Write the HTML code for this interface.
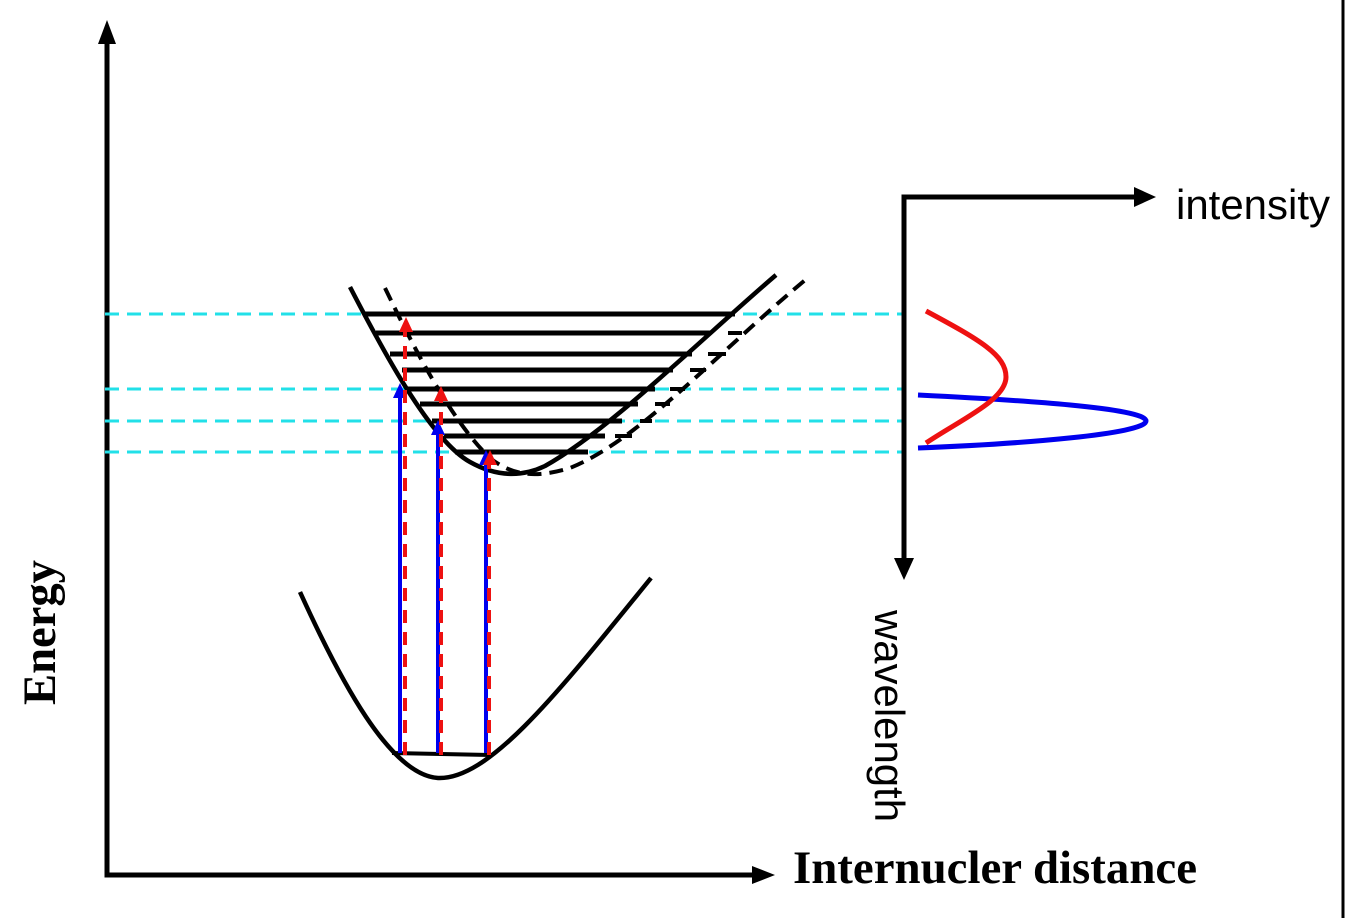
<!DOCTYPE html>
<html><head><style>
html,body{margin:0;padding:0;background:#fff;width:1346px;height:918px;overflow:hidden}
svg{display:block}
</style></head><body>
<svg width="1346" height="918" viewBox="0 0 1346 918" xmlns="http://www.w3.org/2000/svg">
<line x1="1343" y1="0" x2="1343" y2="918" stroke="#000" stroke-width="3"/>
<polyline points="107,40 107,875 760,875" fill="none" stroke="#000" stroke-width="5"/>
<polygon points="107,20 98,44 116,44" fill="#000"/>
<polygon points="775,875 752,866 752,884" fill="#000"/>
<g stroke="#22e0e8" stroke-width="3" stroke-dasharray="14,8">
<line x1="105" y1="314" x2="905" y2="314"/>
<line x1="105" y1="389" x2="905" y2="389"/>
<line x1="105" y1="421" x2="905" y2="421"/>
<line x1="105" y1="452" x2="905" y2="452"/>
</g>
<g stroke="#000" stroke-width="5">
<line x1="365" y1="314" x2="735" y2="314"/>
<line x1="376" y1="333" x2="710" y2="333"/>
<line x1="390" y1="354" x2="692" y2="354"/>
<line x1="402" y1="370" x2="673" y2="370"/>
<line x1="408" y1="389" x2="655" y2="389"/>
<line x1="420" y1="404" x2="638" y2="404"/>
<line x1="432" y1="421" x2="622" y2="421"/>
<line x1="444" y1="436" x2="605" y2="436"/>
<line x1="455" y1="452" x2="588" y2="452"/>
</g>
<g stroke="#000" stroke-width="4">
<line x1="728" y1="333" x2="742" y2="333"/>
<line x1="708" y1="354" x2="726" y2="354"/>
<line x1="690" y1="370" x2="706" y2="370"/>
<line x1="670" y1="389" x2="685" y2="389"/>
<line x1="655" y1="404" x2="670" y2="404"/>
<line x1="640" y1="421" x2="652" y2="421"/>
<line x1="615" y1="436" x2="632" y2="436"/>
</g>
<path d="M350,287 C380,345 430,440 470,462 C495,476 520,478 545,466 C610,430 700,340 776,275" fill="none" stroke="#000" stroke-width="4.5"/>
<path d="M385,288 C410,340 450,420 490,458 C515,478 540,477 570,468 C640,440 720,350 810,276" fill="none" stroke="#000" stroke-width="4" stroke-dasharray="14,8"/>
<path d="M300,592 C340,680 390,775 438,778 C490,780 560,690 651,578" fill="none" stroke="#000" stroke-width="4.5"/>
<line x1="392" y1="753" x2="490" y2="755" stroke="#000" stroke-width="4"/>
<g stroke="#0000ee" stroke-width="4">
<line x1="400" y1="753" x2="400" y2="395"/>
<line x1="438" y1="753" x2="438" y2="432"/>
<line x1="486" y1="753" x2="486" y2="462"/>
</g>
<g fill="#0000ee">
<polygon points="400,383 393,398 407,398"/>
<polygon points="438,420 431,435 445,435"/>
<polygon points="486,450 479,465 493,465"/>
</g>
<g stroke="#ee1111" stroke-width="4" stroke-dasharray="13,9">
<line x1="405" y1="755" x2="405" y2="325"/>
<line x1="441" y1="755" x2="441" y2="396"/>
<line x1="489" y1="755" x2="489" y2="460"/>
</g>
<g fill="#ee1111">
<polygon points="406,317 399,332 413,332"/>
<polygon points="441,386 434,401 448,401"/>
<polygon points="490,450 483,465 497,465"/>
</g>
<polyline points="904,568 904,197 1140,197" fill="none" stroke="#000" stroke-width="5"/>
<polygon points="1156,197 1134,187 1134,207" fill="#000"/>
<polygon points="904,580 894,558 914,558" fill="#000"/>
<path d="M918,395 C1020,400 1146,408 1146,421 C1146,434 1020,444 918,448" fill="none" stroke="#0000ee" stroke-width="5"/>
<path d="M926,311 C980,340 1006,355 1006,377 C1006,400 960,420 926,443" fill="none" stroke="#ee1111" stroke-width="5"/>
<text x="1176" y="219" font-family="Liberation Sans, sans-serif" font-size="42" textLength="154" lengthAdjust="spacingAndGlyphs">intensity</text>
<text x="793" y="883" font-family="Liberation Serif, serif" font-weight="bold" font-size="47" textLength="404" lengthAdjust="spacingAndGlyphs">Internucler distance</text>
<text transform="translate(55,705) rotate(-90)" font-family="Liberation Serif, serif" font-weight="bold" font-size="47" textLength="145" lengthAdjust="spacingAndGlyphs">Energy</text>
<text transform="translate(875,610) rotate(90)" font-family="Liberation Sans, sans-serif" font-size="42" textLength="212" lengthAdjust="spacingAndGlyphs">wavelength</text>
</svg>
</body></html>
